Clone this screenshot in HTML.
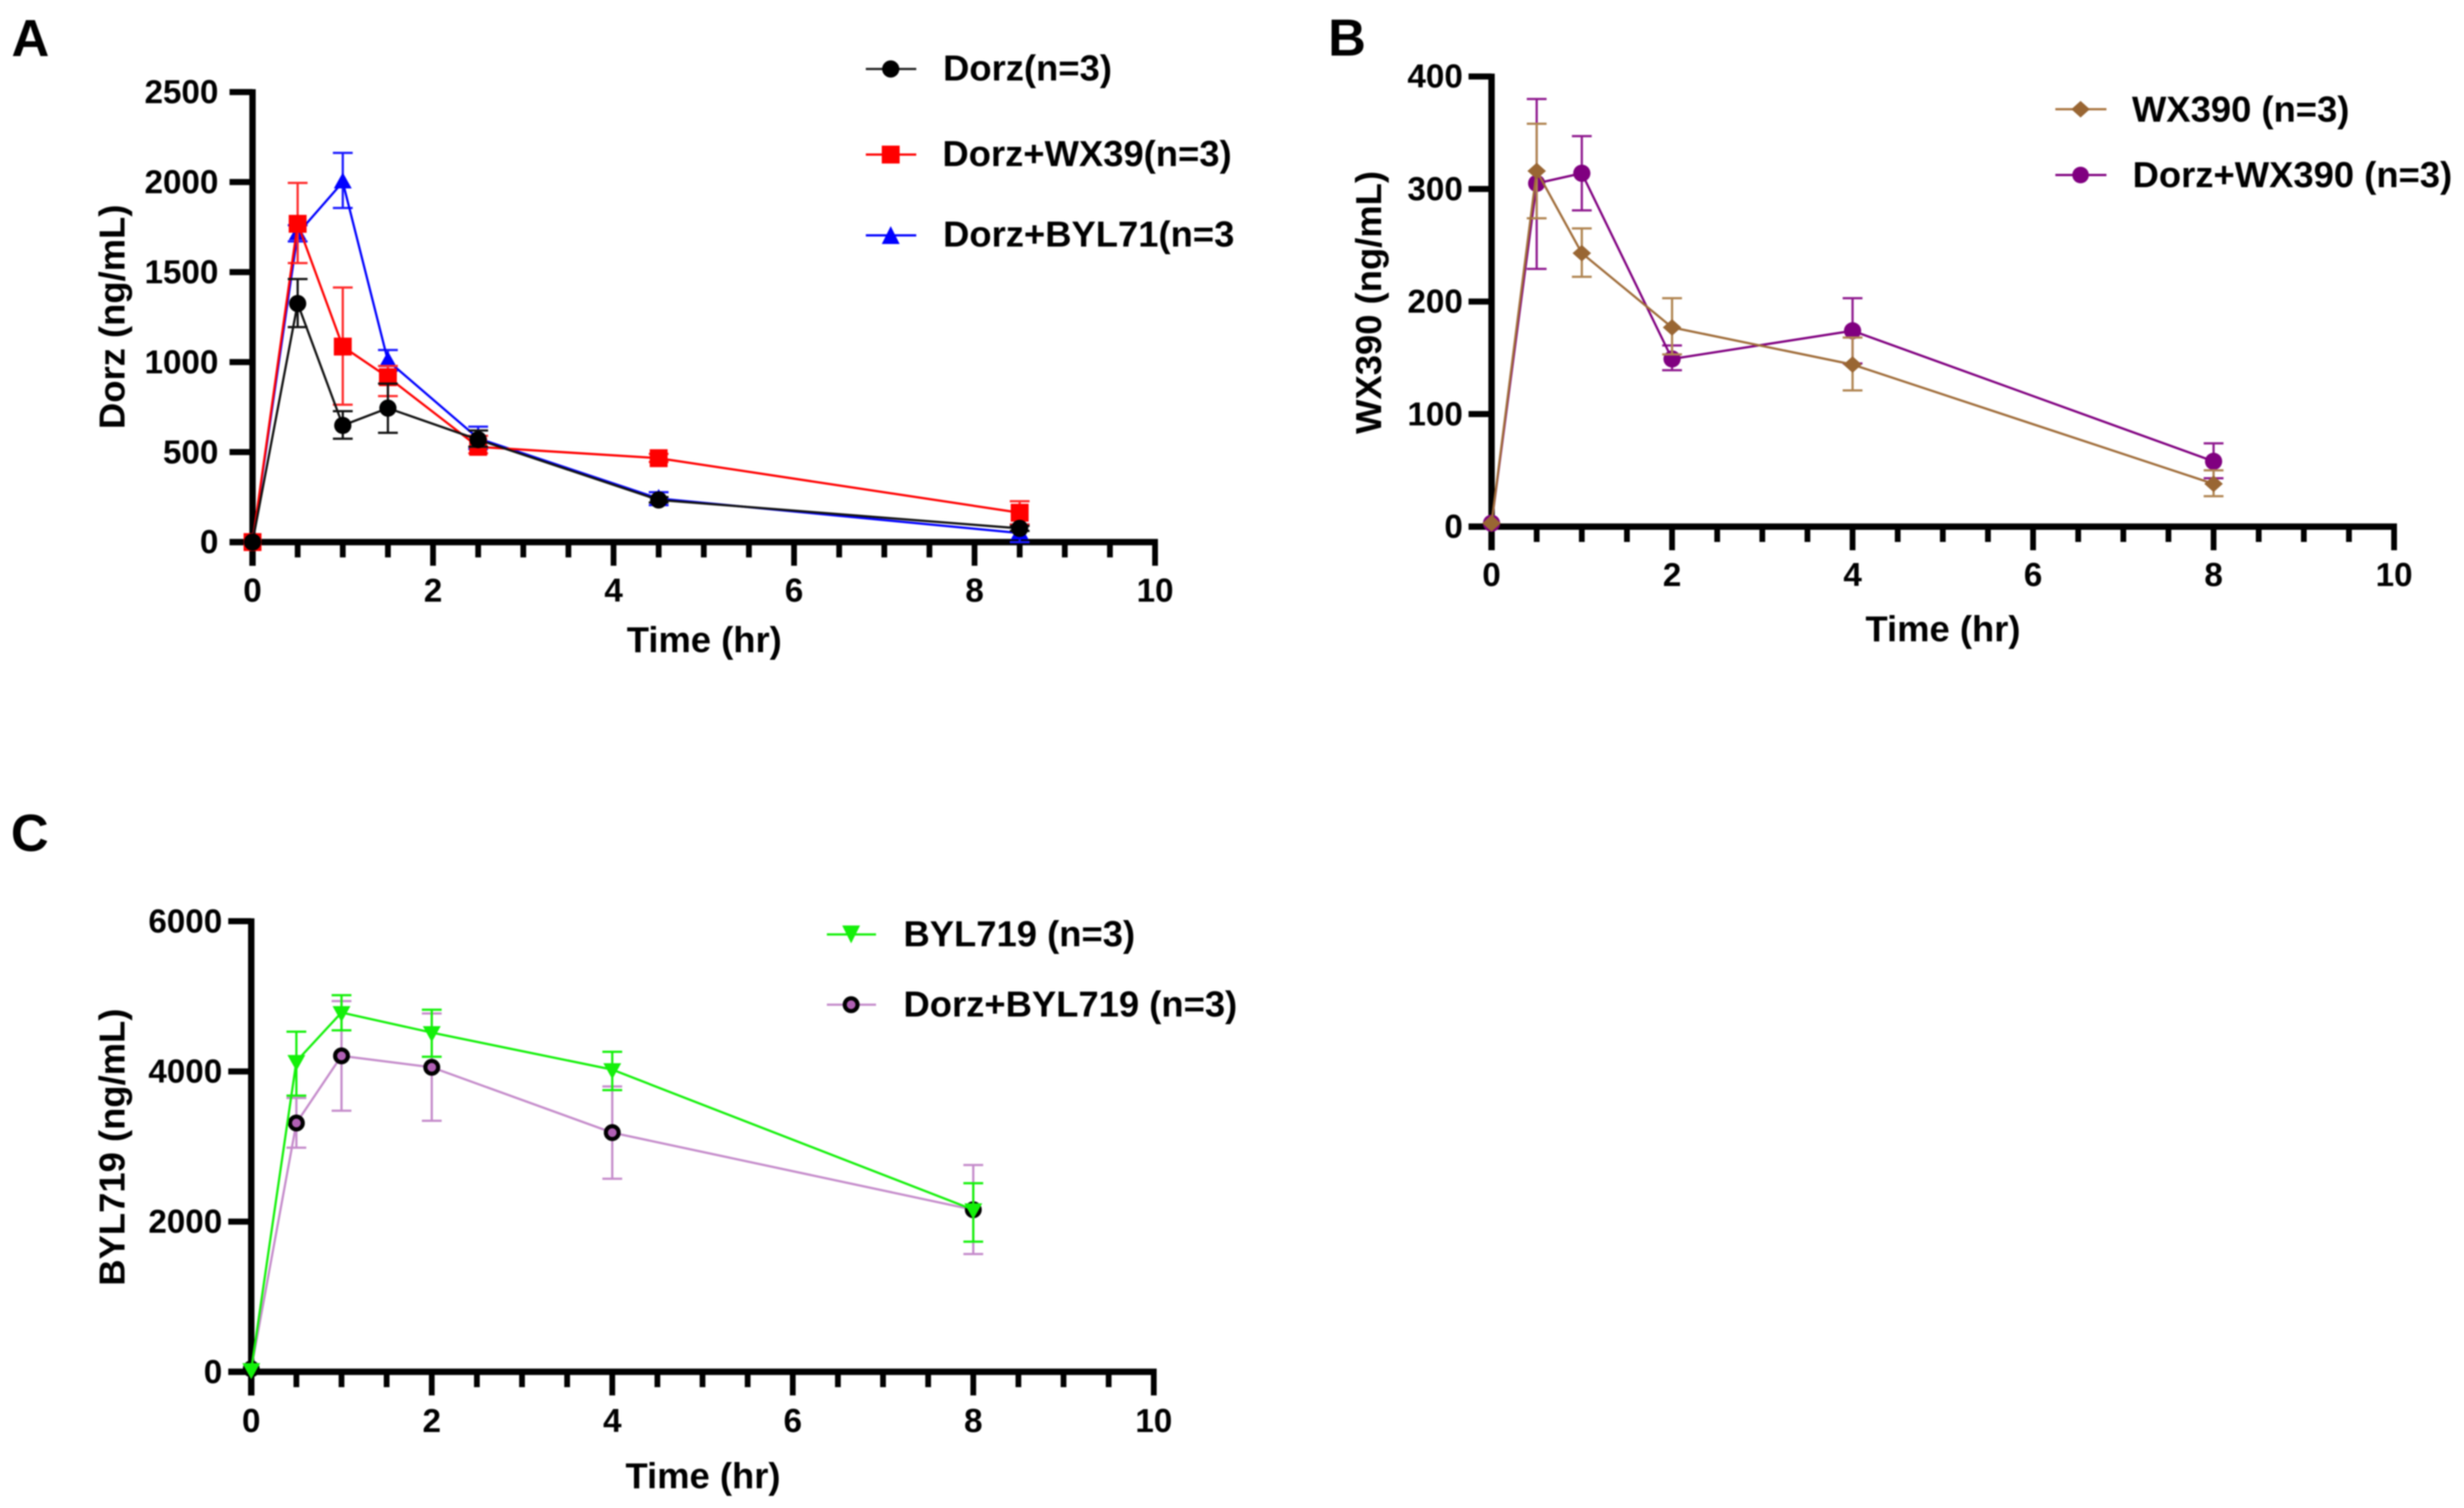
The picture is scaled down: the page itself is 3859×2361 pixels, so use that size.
<!DOCTYPE html>
<html lang="en">
<head>
<meta charset="utf-8">
<title>Pharmacokinetic profiles</title>
<style>
html,body{margin:0;padding:0;background:#fff;width:3859px;height:2361px;overflow:hidden}
svg{display:block;filter:blur(1.1px)}
text{font-family:"Liberation Sans",Arial,sans-serif;font-weight:bold;fill:#000}
.title{font-size:57px}
.legend{font-size:57px}
.letter{font-size:82px}
.tick{font-size:52px}
</style>
</head>
<body>
<svg id="figure" xmlns="http://www.w3.org/2000/svg" width="3859" height="2361" viewBox="0 0 3859 2361">
  <rect width="3859" height="2361" fill="#fff"/>

  <g id="panel-a">
    <text class="letter" x="18" y="88">A</text>
    <text class="title" transform="translate(195 496) rotate(-90)" text-anchor="middle">Dorz (ng/mL)</text>
    <text class="title" x="1103" y="1021" text-anchor="middle">Time (hr)</text>
    <g>
      <g>
        <line x1="1356" x2="1435" y1="108" y2="108" stroke="#222" stroke-width="3.5"/>
        <circle cx="1395" cy="108" r="13.5" fill="#000"/>
        <text class="legend" x="1477" y="126">Dorz(n=3)</text>
      </g>
      <g>
        <line x1="1356" x2="1435" y1="242" y2="242" stroke="#f00" stroke-width="3.5"/>
        <rect x="1381" y="228" width="28" height="28" fill="#f00"/>
        <text class="legend" x="1476" y="260">Dorz+WX39(n=3)</text>
      </g>
      <g>
        <line x1="1356" x2="1435" y1="368.5" y2="368.5" stroke="#00f" stroke-width="3.5"/>
        <polygon points="1395,354 1409,382 1381,382" fill="#00f"/>
        <text class="legend" x="1477" y="386">Dorz+BYL71(n=3</text>
      </g>
    </g>
  </g>

  <g id="panel-b">
    <text class="letter" x="2080" y="87">B</text>
    <text class="title" transform="translate(2163 473.5) rotate(-90)" text-anchor="middle">WX390 (ng/mL)</text>
    <text class="title" x="3043" y="1004" text-anchor="middle">Time (hr)</text>
    <g>
      <g>
        <line x1="3219" x2="3299" y1="171" y2="171" stroke="#a9743f" stroke-width="3.5"/>
        <polygon points="3258.5,158 3273,171 3258.5,184 3244,171" fill="#996633"/>
        <text class="legend" x="3339" y="190.5">WX390 (n=3)</text>
      </g>
      <g>
        <line x1="3219" x2="3299" y1="274" y2="274" stroke="#800080" stroke-width="3.5"/>
        <circle cx="3258.5" cy="274" r="13" fill="#800080"/>
        <text class="legend" x="3340" y="293">Dorz+WX390 (n=3)</text>
      </g>
    </g>
  </g>

  <g id="panel-c">
    <text class="letter" x="17" y="1332">C</text>
    <text class="title" transform="translate(195 1796) rotate(-90)" text-anchor="middle">BYL719 (ng/mL)</text>
    <text class="title" x="1101" y="2330" text-anchor="middle">Time (hr)</text>
    <g>
      <g>
        <line x1="1295" x2="1372" y1="1463" y2="1463" stroke="#14f00a" stroke-width="3.5"/>
        <polygon points="1319,1449 1347,1449 1333,1477" fill="#14f00a"/>
        <text class="legend" x="1415" y="1481.5">BYL719 (n=3)</text>
      </g>
      <g>
        <line x1="1295" x2="1372" y1="1573" y2="1573" stroke="#c58ccb" stroke-width="3.5"/>
        <circle cx="1333" cy="1573" r="10" fill="#b060b4" stroke="#000" stroke-width="6.5"/>
        <text class="legend" x="1415" y="1591.5">Dorz+BYL719 (n=3)</text>
      </g>
    </g>
  </g>
</svg>

<script>
// Panel A data (ng/mL)
const panelATimes = [0, 0.5, 1, 1.5, 2.5, 4.5, 8.5];
const dorzMeans = [0, 1325, 648, 744, 569, 234, 76];
const dorzUpper = [0, 1461, 727, 880, 620, 250, 90];
const dorzLower = [0, 1194, 574, 607, 530, 220, 62];
const wx39Means = [0, 1768, 1086, 916, 529, 466, 163];
const wx39Upper = [0, 1995, 1414, 978, 590, 490, 227];
const wx39Lower = [0, 1550, 763, 811, 493, 445, 98];
const byl71Means = [0, 1713, 2000, 1007, 576, 242, 50];
const byl71Upper = [0, 1760, 2162, 1067, 641, 277, 98];
const byl71Lower = [0, 1670, 1856, 952, 517, 205, 0];
const panelAXTicks = [0, 2, 4, 6, 8, 10];
const panelAYTicks = [0, 500, 1000, 1500, 2000, 2500];

// Panel B data (ng/mL)
const panelBTimes = [0, 0.5, 1, 2, 4, 8];
const wx390Means = [3, 316, 243, 177, 144, 38];
const wx390Upper = [3, 358, 265, 203, 168, 50];
const wx390Lower = [3, 274, 222, 153, 121, 27];
const dorzWx390Means = [3, 305, 314, 149, 174, 58];
const dorzWx390Upper = [3, 380, 347, 161, 203, 74];
const dorzWx390Lower = [3, 229, 281, 139, 145, 43];
const panelBXTicks = [0, 2, 4, 6, 8, 10];
const panelBYTicks = [0, 100, 200, 300, 400];

// Panel C data (ng/mL)
const panelCTimes = [0, 0.5, 1, 2, 4, 8];
const byl719Means = [30, 4134, 4784, 4517, 4024, 2158];
const byl719Upper = [30, 4529, 5015, 4821, 4261, 2511];
const byl719Lower = [30, 3678, 4547, 4195, 3751, 1733];
const dorzByl719Means = [40, 3313, 4207, 4055, 3185, 2158];
const dorzByl719Upper = [40, 3647, 4936, 4772, 3800, 2754];
const dorzByl719Lower = [40, 2985, 3477, 3343, 2571, 1568];
const panelCXTicks = [0, 2, 4, 6, 8, 10];
const panelCYTicks = [0, 2000, 4000, 6000];

const NS = 'http://www.w3.org/2000/svg';

function make(tag, attrs, parent) {
  const node = document.createElementNS(NS, tag);
  for (const key in attrs) node.setAttribute(key, attrs[key]);
  parent.appendChild(node);
  return node;
}

function linear(d0, d1, r0, r1) {
  return function (v) { return r0 + (v - d0) * (r1 - r0) / (d1 - d0); };
}

function drawAxes(parent, prefix, x, y, xTicks, yTicks, box) {
  const axes = make('g', {}, parent);
  
  
  const xMax = xTicks[xTicks.length - 1];
  const yMax = yTicks[yTicks.length - 1];
  const y0 = y(0);
  const x0 = x(0);

  const yLine = make('line', { x1: x0, x2: x0, y1: y(yMax) - 4.5, y2: y0 + 37, stroke: '#000', 'stroke-width': 10 }, axes);
  
  

  const xLine = make('line', { x1: x0 - box.tickLeft, x2: x(xMax) + 4.5, y1: y0, y2: y0, stroke: '#000', 'stroke-width': 10 }, axes);
  
  

  yTicks.forEach(function (v) {
    const tick = make('line', { x1: x0 - box.tickLeft, x2: x0, y1: y(v), y2: y(v), stroke: '#000', 'stroke-width': 9.5 }, axes);
    
    
    const label = make('text', { class: 'tick', x: box.yLabelRight, y: y(v) + 17.5, 'text-anchor': 'end' }, axes);
    label.textContent = String(v);
    
    
  });

  const minorStep = (xTicks[1] - xTicks[0]) / 4;
  for (let t = xTicks[0]; t <= xMax + 1e-9; t += minorStep) {
    const isMajor = xTicks.indexOf(t) >= 0;
    const tick = make('line', { x1: x(t), x2: x(t), y1: y0, y2: y0 + (isMajor ? 37 : 24), stroke: '#000', 'stroke-width': 9 }, axes);
    
    
  }

  xTicks.forEach(function (t) {
    const label = make('text', { class: 'tick', x: x(t), y: box.xLabelBaseline, 'text-anchor': 'middle' }, axes);
    label.textContent = String(t);
    
    
  });
}

function drawMarker(parent, kind, cx, cy, color) {
  if (kind === 'circle') return make('circle', { cx: cx, cy: cy, r: 13.5, fill: color }, parent);
  if (kind === 'ring') return make('circle', { cx: cx, cy: cy, r: 10, fill: color, stroke: '#000', 'stroke-width': 6.5 }, parent);
  if (kind === 'square') return make('rect', { x: cx - 14, y: cy - 14, width: 28, height: 28, fill: color }, parent);
  if (kind === 'triangle') return make('polygon', { points: cx + ',' + (cy - 15) + ' ' + (cx + 14) + ',' + (cy + 10) + ' ' + (cx - 14) + ',' + (cy + 10), fill: color }, parent);
  if (kind === 'triangle-down') return make('polygon', { points: (cx - 14) + ',' + (cy - 10) + ' ' + (cx + 14) + ',' + (cy - 10) + ' ' + cx + ',' + (cy + 15), fill: color }, parent);
  return make('polygon', { points: cx + ',' + (cy - 13) + ' ' + (cx + 14.5) + ',' + cy + ' ' + cx + ',' + (cy + 13) + ' ' + (cx - 14.5) + ',' + cy, fill: color }, parent);
}

function drawSeries(parent, name, x, y, times, means, upper, lower, style) {
  const group = make('g', {}, parent);
  
  

  times.forEach(function (t, i) {
    if (upper[i] === lower[i]) return;
    const bars = make('path', {
      d: 'M' + x(t) + ' ' + y(upper[i]) + 'V' + y(lower[i]) +
         'M' + (x(t) - 15.5) + ' ' + y(upper[i]) + 'H' + (x(t) + 15.5) +
         'M' + (x(t) - 15.5) + ' ' + y(lower[i]) + 'H' + (x(t) + 15.5),
      fill: 'none', stroke: style.bar, 'stroke-width': 3.5
    }, group);
    
    
  });

  const pts = times.map(function (t, i) { return x(t) + ',' + y(means[i]); }).join(' ');
  const line = make('polyline', { points: pts, fill: 'none', stroke: style.line, 'stroke-width': 3.5, 'stroke-linejoin': 'round' }, group);
  
  

  times.forEach(function (t, i) {
    const point = drawMarker(group, style.marker, x(t), y(means[i]), style.fill);
    
    
  });
}

const panelAGroup = document.getElementById('panel-a');
const xA = linear(0, 10, 395.5, 1809);
const yA = linear(0, 2500, 848.7, 144.1);
drawAxes(panelAGroup, 'panel-a', xA, yA, panelAXTicks, panelAYTicks, { tickLeft: 36, yLabelRight: 342, xLabelBaseline: 942 });
drawSeries(panelAGroup, 'dorz-byl71', xA, yA, panelATimes, byl71Means, byl71Upper, byl71Lower, { line: '#00f', bar: '#1a1aff', fill: '#00f', marker: 'triangle' });
drawSeries(panelAGroup, 'dorz-wx39', xA, yA, panelATimes, wx39Means, wx39Upper, wx39Lower, { line: '#f00', bar: '#ff2a2a', fill: '#f00', marker: 'square' });
drawSeries(panelAGroup, 'dorz', xA, yA, panelATimes, dorzMeans, dorzUpper, dorzLower, { line: '#111', bar: '#111', fill: '#000', marker: 'circle' });

const panelBGroup = document.getElementById('panel-b');
const xB = linear(0, 10, 2336, 3749.5);
const yB = linear(0, 400, 824.5, 119.7);
drawAxes(panelBGroup, 'panel-b', xB, yB, panelBXTicks, panelBYTicks, { tickLeft: 36, yLabelRight: 2291, xLabelBaseline: 917.5 });
drawSeries(panelBGroup, 'dorz-wx390', xB, yB, panelBTimes, dorzWx390Means, dorzWx390Upper, dorzWx390Lower, { line: '#800080', bar: '#8f1a8f', fill: '#800080', marker: 'circle' });
drawSeries(panelBGroup, 'wx390', xB, yB, panelBTimes, wx390Means, wx390Upper, wx390Lower, { line: '#a06d3a', bar: '#b08552', fill: '#996633', marker: 'diamond' });

const panelCGroup = document.getElementById('panel-c');
const xC = linear(0, 10, 393.5, 1807);
const yC = linear(0, 6000, 2147.8, 1442.3);
drawAxes(panelCGroup, 'panel-c', xC, yC, panelCXTicks, panelCYTicks, { tickLeft: 36, yLabelRight: 348, xLabelBaseline: 2242 });
drawSeries(panelCGroup, 'dorz-byl719', xC, yC, panelCTimes, dorzByl719Means, dorzByl719Upper, dorzByl719Lower, { line: '#c58ccb', bar: '#c58ccb', fill: '#b060b4', marker: 'ring' });
drawSeries(panelCGroup, 'byl719', xC, yC, panelCTimes, byl719Means, byl719Upper, byl719Lower, { line: '#14f00a', bar: '#14f00a', fill: '#14f00a', marker: 'triangle-down' });
</script>
</body>
</html>
